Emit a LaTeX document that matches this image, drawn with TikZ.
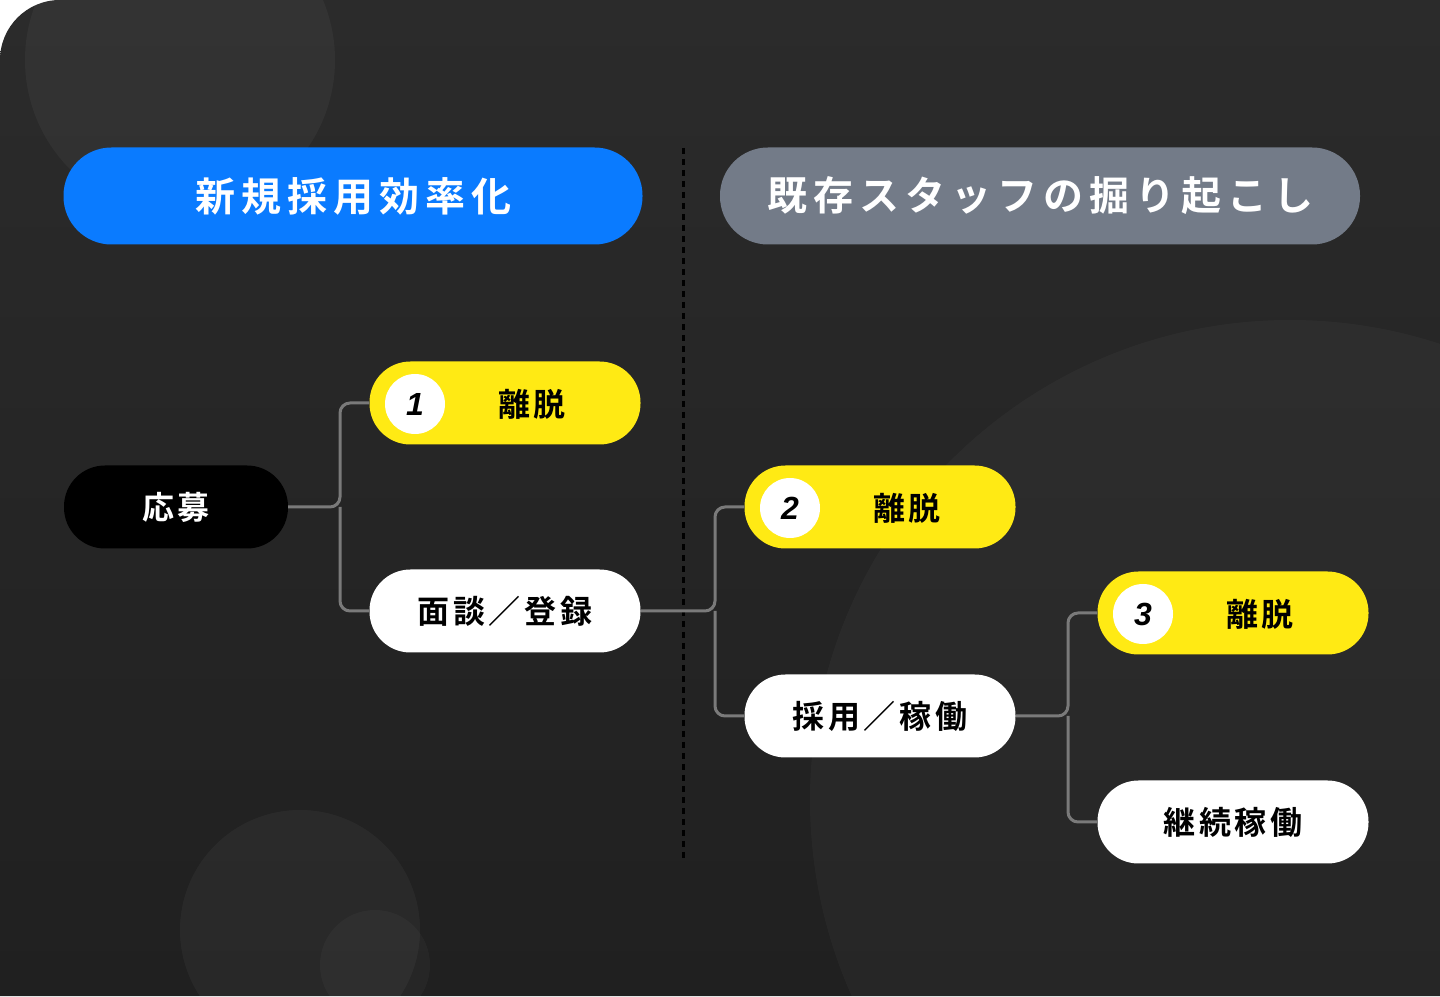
\documentclass[tikz,border=0pt]{standalone}
\usepackage{fontspec}
\setmainfont{Noto Sans CJK JP}[BoldFont={* Bold}]
\newfontfamily\numfont{Liberation Sans}
\definecolor{bgdark}{HTML}{2B2B2B}
\definecolor{bgdeep}{HTML}{202020}
\definecolor{blueh}{HTML}{0A7BFF}
\definecolor{grayh}{HTML}{737B88}
\definecolor{yelw}{HTML}{FFEA14}
\definecolor{linegray}{HTML}{7A7A7A}
\begin{document}
\begin{tikzpicture}[x=1pt,y=1pt,
  pill/.style={rounded corners=41pt,minimum width=271pt,minimum height=83pt,
    inner sep=0pt,font=\bfseries\fontsize{32}{36}\selectfont\addfontfeature{LetterSpace=12}},
  head/.style={pill,rounded corners=48pt,minimum height=97pt,text=white,
    font=\bfseries\fontsize{40}{44}\selectfont\addfontfeature{LetterSpace=15}},
  numdot/.style={circle,fill=white,minimum size=60pt,inner sep=0pt,
    font=\numfont\bfseries\itshape\fontsize{32}{36}\selectfont},
  link/.style={draw=linegray,line width=3pt,rounded corners=10pt}]
\useasboundingbox (0,0) rectangle (1440,996);
% background
\begin{scope}
\clip (0,0) -- (0,936) arc[start angle=180,end angle=90,radius=60] -- (1440,996) -- (1440,0) -- cycle;
\shade[top color=bgdark,bottom color=bgdeep] (0,0) rectangle (1440,996);
\fill[white,opacity=0.04] (180,936) circle (155);
\fill[white,opacity=0.03] (1290,196) circle (480);
\fill[white,opacity=0.04] (300,66) circle (120);
\fill[white,opacity=0.03] (375,31) circle (55);
\end{scope}
% headers
\node[head,fill=blueh,minimum width=579pt] (newh) at (353,800) {新規採用効率化};
\node[head,fill=grayh,minimum width=640pt] (oldh) at (1040,800) {既存スタッフの掘り起こし};
\draw[line width=3pt,dash pattern=on 6pt off 5pt] (683,848) -- (683,136);
% left tree
\node[pill,fill=black,text=white,minimum width=224pt] (apply) at (176,489) {応募};
\node[pill,fill=yelw] (drop1) at (505,593) {};
\node[numdot] (n1) at (415,592) {1};
\node[font=\bfseries\fontsize{32}{36}\selectfont\addfontfeature{LetterSpace=12}] at (532,592) {離脱};
\node[pill,fill=white] (meet) at (505,385) {面談／登録};
% right tree
\node[pill,fill=yelw] (drop2) at (880,489) {};
\node[numdot] (n2) at (790,488) {2};
\node[font=\bfseries\fontsize{32}{36}\selectfont\addfontfeature{LetterSpace=12}] at (907,488) {離脱};
\node[pill,fill=white] (hire) at (880,280) {採用／稼働};
\node[pill,fill=yelw] (drop3) at (1233,383) {};
\node[numdot] (n3) at (1143,382) {3};
\node[font=\bfseries\fontsize{32}{36}\selectfont\addfontfeature{LetterSpace=12}] at (1260,382) {離脱};
\node[pill,fill=white] (keep) at (1233,174) {継続稼働};
% connectors
\draw[link] (apply.east) -| (340,560) |- (drop1.west);
\draw[link] (340,489) |- (meet.west);
\draw[link] (meet.east) -| (715,460) |- (drop2.west);
\draw[link] (715,385) |- (hire.west);
\draw[link] (hire.east) -| (1068,350) |- (drop3.west);
\draw[link] (1068,280) |- (keep.west);
\end{tikzpicture}
\end{document}
